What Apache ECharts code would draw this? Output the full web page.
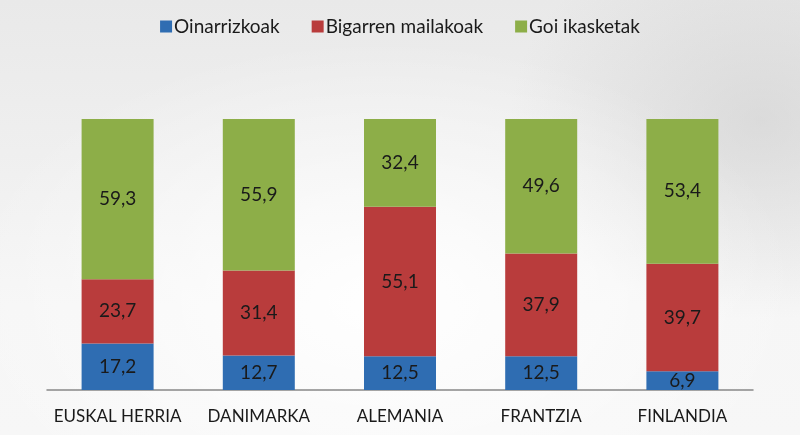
<!DOCTYPE html>
<html>
<head>
<meta charset="utf-8">
<script src="https://cdn.jsdelivr.net/npm/echarts@6/dist/echarts.min.js"></script>
<style>
html,body{margin:0;padding:0;}
body{width:800px;height:435px;overflow:hidden;
background:
 radial-gradient(ellipse 420px 260px at 380px 300px, rgba(255,255,255,0.95), rgba(255,255,255,0) 100%),
 radial-gradient(ellipse 250px 200px at 760px 120px, rgba(200,200,200,0.5), rgba(200,200,200,0) 100%),
 linear-gradient(to bottom, #e9e9e9 0%, #efefef 35%, #f6f6f6 70%, #f7f7f7 100%);}
#c{width:800px;height:435px;}
</style>
</head>
<body>
<div id="c"></div>
<script>
var categories = ['EUSKAL HERRIA', 'DANIMARKA', 'ALEMANIA', 'FRANTZIA', 'FINLANDIA'];
var oinarrizkoak = [17.2, 12.7, 12.5, 12.5, 6.9];
var bigarrenMailakoak = [23.7, 31.4, 55.1, 37.9, 39.7];
var goiIkasketak = [59.3, 55.9, 32.4, 49.6, 53.4];
var seriesNames = ['Oinarrizkoak', 'Bigarren mailakoak', 'Goi ikasketak'];
var colors = ['#2f6db2', '#b93c3c', '#8dae48'];

var chart = echarts.init(document.getElementById('c'));
var font = 'Lato, "Open Sans", sans-serif';
function mk(name, data, color) {
  return {
    name: name, type: 'bar', stack: 'total', data: data,
    barWidth: 72,
    itemStyle: { color: color },
    label: {
      show: true, position: 'inside', color: '#1a1a1a',
      fontFamily: font, fontSize: 19,
      formatter: function (p) { return String(p.value).replace('.', ','); }
    }
  };
}
chart.setOption({
  backgroundColor: 'transparent',
  animation: false,
  legend: {
    top: 12, left: 'center',
    itemWidth: 12, itemHeight: 12, itemGap: 32,
    icon: 'rect',
    textStyle: { fontFamily: font, fontSize: 19, color: '#1a1a1a', padding: [0,0,0,-3] },
    data: seriesNames
  },
  grid: { left: 47, right: 47, top: 119, bottom: 45 },
  xAxis: {
    type: 'category', data: categories,
    axisLine: { lineStyle: { color: '#888', width: 1.5 } },
    axisTick: { show: false },
    axisLabel: { interval: 0, fontFamily: font, fontSize: 17, color: '#1a1a1a', margin: 18 }
  },
  yAxis: { type: 'value', min: 0, max: 100, show: false, splitLine: { show: false } },
  series: [
    mk(seriesNames[0], oinarrizkoak, colors[0]),
    mk(seriesNames[1], bigarrenMailakoak, colors[1]),
    mk(seriesNames[2], goiIkasketak, colors[2])
  ]
});
</script>
</body>
</html>
